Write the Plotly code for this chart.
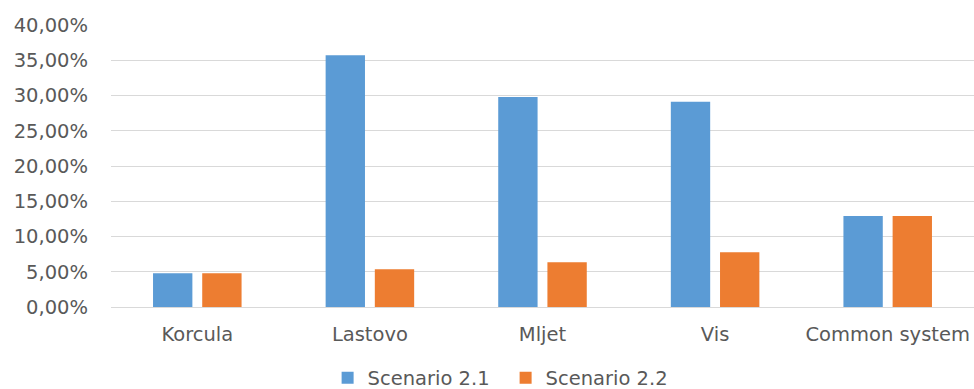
import plotly.graph_objects as go

# Share of each island system under the two scenarios (percent)
categories = ["Korcula", "Lastovo", "Mljet", "Vis", "Common system"]
scenario_21 = [4.8, 35.7, 29.8, 29.1, 12.9]
scenario_22 = [4.8, 5.35, 6.35, 7.75, 12.9]
series_names = ["Scenario 2.1", "Scenario 2.2"]

y_ticks = [0, 5, 10, 15, 20, 25, 30, 35, 40]
y_tick_labels = ["0,00%", "5,00%", "10,00%", "15,00%", "20,00%",
                 "25,00%", "30,00%", "35,00%", "40,00%"]

BLUE = "#5B9BD5"
ORANGE = "#ED7D31"
TEXT = "#595959"
GRID = "#D9D9D9"
FONT = "DejaVu Sans"

fig = go.Figure()
fig.add_trace(go.Bar(x=categories, y=scenario_21, name=series_names[0],
                     marker=dict(color=BLUE, line=dict(width=0))))
fig.add_trace(go.Bar(x=categories, y=scenario_22, name=series_names[1],
                     marker=dict(color=ORANGE, line=dict(width=0))))

fig.update_layout(
    width=974, height=389,
    margin=dict(l=111, r=0, t=25, b=82, autoexpand=False),
    paper_bgcolor="white", plot_bgcolor="white",
    barmode="group", bargap=0.43, bargroupgap=0.2,
    font=dict(family=FONT, size=19.5, color=TEXT),
    showlegend=True,
    legend=dict(orientation="h", x=0.251, xanchor="left",
                yref="container", y=0.078, yanchor="top",
                font=dict(family=FONT, size=19.5, color=TEXT),
                itemwidth=30, entrywidth=133, entrywidthmode="pixels",
                traceorder="normal"),
)

fig.update_xaxes(
    range=[-0.5, 4.5], showgrid=False, zeroline=False,
    showline=False, ticks="", ticklabelstandoff=13,
    tickfont=dict(family=FONT, size=19.5, color=TEXT),
)
fig.update_yaxes(
    range=[0, 40], tickvals=y_ticks, ticktext=y_tick_labels,
    showgrid=True, gridcolor=GRID, gridwidth=1,
    zeroline=True, zerolinecolor=GRID, zerolinewidth=1,
    showline=False, ticks="", ticklabelstandoff=22,
    tickfont=dict(family=FONT, size=19.5, color=TEXT),
)

fig.write_html("out.html")
